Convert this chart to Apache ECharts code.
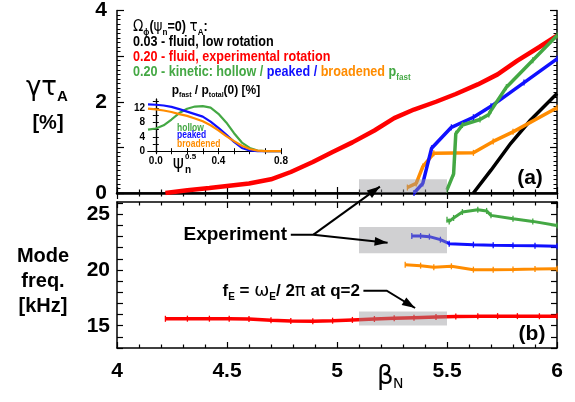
<!DOCTYPE html>
<html><head><meta charset="utf-8">
<script src="https://cdn.jsdelivr.net/npm/echarts@6/dist/echarts.min.js"></script>
<style>html,body{margin:0;padding:0;background:#fff}#c{width:575px;height:402px}</style>
</head><body><div id="c"></div>
<script>
// ---------- data ----------
const betaRed   = [4.22,4.32,4.42,4.51,4.60,4.70,4.79,4.89,4.98,5.07,5.17,5.26,5.35,5.45,5.54,5.64,5.73,5.82,5.92,6.00];
const growthRed = [0.00,0.06,0.11,0.16,0.21,0.30,0.46,0.68,0.90,1.11,1.37,1.64,1.83,2.00,2.17,2.38,2.60,2.90,3.20,3.45];
const freqRed   = [15.62,15.63,15.63,15.62,15.60,15.50,15.42,15.40,15.45,15.52,15.60,15.66,15.72,15.78,15.82,15.84,15.86,15.86,15.85,15.84];

const betaBlack   = [5.62,5.70,5.79,5.88,6.00];
const growthBlack = [0.00,0.50,1.09,1.60,2.18];

const betaBlueTop   = [5.35,5.39,5.43,5.52,5.62,5.70,5.85,6.00];
const growthBlue    = [0.00,0.21,0.98,1.44,1.66,1.90,2.42,2.94];
const betaOrangeTop = [5.32,5.36,5.39,5.44,5.62,5.71,5.80,6.00];
const growthOrange  = [0.12,0.21,0.58,0.87,0.88,1.13,1.34,1.87];
const betaGreenTop  = [5.50,5.53,5.54,5.57,5.65,5.69,5.70,5.77,5.89,6.00];
const growthGreen   = [0.07,0.42,1.30,1.49,1.61,1.72,1.81,2.32,2.91,3.45];

const betaBlueBot   = [5.34,5.38,5.42,5.47,5.51,5.62,5.71,5.80,5.90,6.00];
const freqBlue      = [23.05,23.05,22.99,22.72,22.36,22.27,22.22,22.20,22.18,22.12];
const betaOrangeBot = [5.31,5.38,5.44,5.52,5.62,5.71,5.80,5.90,6.00];
const freqOrange    = [20.48,20.39,20.24,20.33,20.03,20.03,20.05,20.08,20.12];
const betaGreenBot  = [5.50,5.51,5.53,5.57,5.64,5.68,5.70,5.80,5.89,6.00];
const freqGreen     = [24.50,24.36,24.67,25.20,25.40,25.30,24.90,24.60,24.36,24.00];

// inset: fast-ion pressure profiles
const psi        = [-0.05,0.00,0.05,0.10,0.15,0.20,0.25,0.30,0.35,0.40,0.45,0.50,0.55,0.60,0.65,0.70,0.75,0.80];
const pHollow    = [6.0,6.3,7.2,8.8,10.6,11.8,12.4,12.5,12.1,10.4,8.0,5.0,2.4,0.9,0.2,0.0,0.0,0.0];
const pPeaked    = [13.0,12.9,12.7,12.3,11.7,11.0,10.3,9.6,8.2,6.5,4.6,2.6,0.9,0.2,0.0,0.0,0.0,0.0];
const pBroadened = [11.8,11.6,11.3,10.9,10.3,9.8,9.1,8.3,7.2,5.8,4.2,2.8,1.5,0.6,0.15,0.02,0.0,0.0];

const topYLabels = [0,2,4];
const botYLabels = [15,20,25];
const insetXLabels = [0,0.4,0.8];
const insetYLabels = [0,4,8,12];

// ---------- style ----------
const RED='#ff0000', BLUE='#1010ff', GREEN='#44a844', ORANGE='#ff8c00', BLACK='#000000';
const FF='Liberation Sans';
const zip=(a,b)=>a.map((v,i)=>[v,b[i]]);
const tickMark={symbol:'rect'};

function ln(name,xs,ys,color,w,xi,yi,sym){
  return {name,type:'line',xAxisIndex:xi,yAxisIndex:yi,data:zip(xs,ys),
    lineStyle:{color,width:w},itemStyle:{color},
    symbol: sym?'rect':'none', symbolSize:[1.3,6], showSymbol:!!sym,
    animation:false, smooth:false, z:3};
}

const axLine={show:true,lineStyle:{color:'#000',width:1.5}};
const lab20={fontFamily:FF,fontWeight:'bold',fontSize:21,color:'#000'};

function mirrorX(gi,pos,extra){
  return Object.assign({type:'value',gridIndex:gi,position:pos,min:4,max:6,interval:0.5,
    axisLine:axLine,axisTick:{show:true,inside:true,length:6,lineStyle:{width:1.2}},
    minorTick:{show:true,splitNumber:5,length:3.5,lineStyle:{color:'#000',width:1.2}},
    axisLabel:{show:false},splitLine:{show:false},minorSplitLine:{show:false}},extra||{});
}

const chart=echarts.init(document.getElementById('c'),null,{renderer:'canvas'});
const option={
  animation:false,
  backgroundColor:'#fff',
  grid:[
    {left:117,top:10,width:440,height:183},
    {left:117,top:202,width:440,height:146},
    {left:148,top:99,width:133,height:54,show:true,backgroundColor:'#fff',borderWidth:0,z:5}
  ],
  xAxis:[
    mirrorX(0,'bottom',{axisLine:{show:true,lineStyle:{color:'#000',width:2.5}}}),
    mirrorX(0,'top'),
    mirrorX(1,'bottom',{axisLabel:Object.assign({show:true,margin:13},lab20)}),
    mirrorX(1,'top'),
    {type:'value',gridIndex:2,position:'bottom',min:-0.05,max:0.8,z:6,
      axisLine:{show:true,lineStyle:{color:'#000',width:1.2}},
      axisTick:{show:true,inside:true,length:3,customValues:[0,0.1,0.2,0.3,0.4,0.5,0.6,0.7,0.8]},
      axisLabel:{show:true,customValues:insetXLabels,formatter:v=>v.toFixed(1),margin:3,
        fontFamily:FF,fontWeight:'bold',fontSize:10,color:'#000'},
      splitLine:{show:false}},
    {type:'value',gridIndex:2,position:'top',min:-0.05,max:0.8,z:6,
      axisLine:{show:true,lineStyle:{color:'#000',width:1.2}},
      axisTick:{show:true,inside:true,length:3,customValues:[0,0.1,0.2,0.3,0.4,0.5,0.6,0.7,0.8]},
      axisLabel:{show:false},splitLine:{show:false}}
  ],
  yAxis:[
    {type:'value',gridIndex:0,position:'left',min:0,max:4,interval:1,
      axisLine:axLine,axisTick:{show:true,inside:true,length:7,lineStyle:{width:1.2}},
      minorTick:{show:true,splitNumber:10,length:3.5,lineStyle:{color:'#000',width:1}},
      axisLabel:Object.assign({show:true,margin:10,padding:[5,0,0,0],
        formatter:v=>topYLabels.indexOf(v)>=0?String(v):''},lab20),
      splitLine:{show:false},minorSplitLine:{show:false}},
    {type:'value',gridIndex:0,position:'right',min:0,max:4,interval:1,
      axisLine:axLine,axisTick:{show:true,inside:true,length:7,lineStyle:{width:1.2}},
      minorTick:{show:true,splitNumber:10,length:3.5,lineStyle:{color:'#000',width:1}},
      axisLabel:{show:false},splitLine:{show:false},minorSplitLine:{show:false}},
    {type:'value',gridIndex:1,position:'left',min:13,max:26.1,interval:1,
      axisLine:axLine,axisTick:{show:true,inside:true,length:6,lineStyle:{width:1.2}},
      axisLabel:Object.assign({show:true,margin:7,showMaxLabel:false,
        formatter:v=>botYLabels.indexOf(v)>=0?String(v):''},lab20),
      splitLine:{show:false}},
    {type:'value',gridIndex:1,position:'right',min:13,max:26.1,interval:1,
      axisLine:axLine,axisTick:{show:true,inside:true,length:6,lineStyle:{width:1.2}},
      axisLabel:{show:false},splitLine:{show:false}},
    {type:'value',gridIndex:2,position:'left',min:-0.5,max:14.5,z:6,
      axisLine:{show:true,lineStyle:{color:'#000',width:1.2}},
      axisTick:{show:true,inside:true,length:3,customValues:[0,2,4,6,8,10,12,14]},
      axisLabel:{show:true,customValues:insetYLabels,margin:3,
        fontFamily:FF,fontWeight:'bold',fontSize:10,color:'#000'},
      splitLine:{show:false}},
    {type:'value',gridIndex:2,position:'right',min:-0.5,max:14.5,z:6,
      axisLine:{show:true,lineStyle:{color:'#000',width:1.2}},
      axisTick:{show:true,inside:true,length:3,customValues:[0,2,4,6,8,10,12,14]},
      axisLabel:{show:false},splitLine:{show:false}}
  ],
  series:[
    ln('red-top',betaRed,growthRed,RED,4.5,0,0,false),
    ln('black-top',betaBlack,growthBlack,BLACK,3.5,0,0,false),
    ln('orange-top',betaOrangeTop,growthOrange,ORANGE,3.5,0,0,true),
    ln('blue-top',betaBlueTop,growthBlue,BLUE,3.5,0,0,true),
    ln('green-top',betaGreenTop,growthGreen,GREEN,3.5,0,0,true),
    ln('red-bot',betaRed,freqRed,RED,3.5,2,2,true),
    ln('orange-bot',betaOrangeBot,freqOrange,ORANGE,3,2,2,true),
    ln('blue-bot',betaBlueBot,freqBlue,BLUE,3,2,2,true),
    ln('green-bot',betaGreenBot,freqGreen,GREEN,3,2,2,true),
    Object.assign(ln('hollow',psi,pHollow,GREEN,2.2,4,4,false),{z:7}),
    Object.assign(ln('peaked',psi,pPeaked,BLUE,2.2,4,4,false),{z:7}),
    Object.assign(ln('broadened',psi,pBroadened,ORANGE,2.2,4,4,false),{z:7})
  ]
};
chart.setOption(option);

// ---------- annotations ----------
const px=(gi,p)=>chart.convertToPixel({gridIndex:gi},p);
const g=[];
function box(gi,x0,x1,y0,y1){
  const a=px(gi,[x0,y1]), b=px(gi,[x1,y0]);
  g.push({type:'rect',z:50,shape:{x:a[0],y:a[1],width:b[0]-a[0],height:b[1]-a[1]},
    style:{fill:'rgba(150,150,156,0.45)'}});
}
box(0,5.1,5.5,0,0.3);
box(1,5.1,5.5,21.5,23.85);
box(1,5.1,5.5,15.03,16.28);

function seg(pts){g.push({type:'polyline',z:60,shape:{points:pts},style:{stroke:'#000',lineWidth:2,fill:null}});}
function head(from,to){
  const dx=to[0]-from[0], dy=to[1]-from[1], L=Math.hypot(dx,dy), ux=dx/L, uy=dy/L;
  const bl=13, hw=4.5, bx=to[0]-ux*bl, by=to[1]-uy*bl;
  g.push({type:'polygon',z:61,shape:{points:[to,[bx-uy*hw,by+ux*hw],[bx+uy*hw,by-ux*hw]]},style:{fill:'#000'}});
}
const e0=px(1,[4.79,23.17]), e1=px(1,[4.893,23.17]), e2=px(1,[5.23,22.44]), e3=px(0,[5.195,0.14]);
seg([e0,e1,e2]); head(e1,e2);
seg([e1,e3]); head(e1,e3);
const f0=px(1,[5.12,18.14]), f1=px(1,[5.226,18.14]), f2=px(1,[5.355,16.59]);
seg([f0,f1,f2]); head(f1,f2);

function txt(x,y,text,o){
  o=o||{};
  g.push({type:'text',x,y,z:70,scaleX:o.sx||1,
    style:Object.assign({text,fontFamily:FF,fontWeight:'bold',fontSize:o.fs||20,fill:o.fill||'#000',
      align:o.align||'center',verticalAlign:'middle'},o.style||{})});
}
// axis titles
txt(57,88,'γτ',{align:'right',style:{fontFamily:'DejaVu Sans',fontWeight:'normal',fontSize:26}});
txt(57,97,'A',{align:'left',fs:15});
txt(48,123,'[%]',{fs:20});
txt(43,256,'Mode',{fs:20});
txt(43,281,'freq.',{fs:20});
txt(43,306,'[kHz]',{fs:20});
txt(377,377,'β',{align:'left',style:{fontFamily:'DejaVu Sans',fontWeight:'normal',fontSize:26}});
txt(393,384,'N',{align:'left',style:{fontFamily:'DejaVu Sans',fontWeight:'normal',fontSize:14}});
txt(530,178,'(a)',{fs:21});
txt(532,334,'(b)',{fs:21});

// legend block
const LS=0.9;
const rb={fontFamily:FF,fontWeight:'bold',fontSize:14,lineHeight:20,verticalAlign:'middle'};
const rg={fontFamily:'DejaVu Sans',fontWeight:'normal',fontSize:15,lineHeight:20,verticalAlign:'middle'};
const rs={fontFamily:FF,fontWeight:'bold',fontSize:9,lineHeight:8,verticalAlign:'bottom'};
g.push({type:'text',x:133,y:27,z:70,scaleX:LS,style:{text:'{g|Ω}{s|ϕ}{b|(}{g|ψ}{s|n}{b|=0) }{g|τ}{s|A}{b|:}',
  align:'left',verticalAlign:'middle',fill:'#000',rich:{b:rb,g:rg,s:rs}}});
txt(133,42,'0.03 - fluid, low rotation',{align:'left',fs:14,sx:LS});
txt(133,57,'0.20 - fluid, experimental rotation',{align:'left',fs:14,sx:LS,fill:RED});
g.push({type:'text',x:133,y:72,z:70,scaleX:LS,style:{text:'{gr|0.20 - kinetic: hollow / }{bl|peaked / }{or|broadened }{gr|p}{gs|fast}',
  align:'left',verticalAlign:'middle',rich:{
    gr:Object.assign({},rb,{fill:GREEN}),bl:Object.assign({},rb,{fill:BLUE}),or:Object.assign({},rb,{fill:ORANGE}),
    gs:Object.assign({},rs,{fill:GREEN})}}});

// inset texts
g.push({type:'text',x:216,y:91,z:70,scaleX:1,style:{text:'{b|p}{s|fast}{b| / p}{s|total}{b|(0) [%]}',
  align:'center',verticalAlign:'middle',fill:'#000',rich:{
    b:{fontFamily:FF,fontWeight:'bold',fontSize:12,lineHeight:16,verticalAlign:'middle'},
    s:{fontFamily:FF,fontWeight:'bold',fontSize:7,lineHeight:7,verticalAlign:'bottom'}}}});
txt(177,128,'hollow',{align:'left',fs:10,sx:0.85,fill:GREEN});
txt(177,135.5,'peaked',{align:'left',fs:10,sx:0.85,fill:BLUE});
txt(177,144,'broadened',{align:'left',fs:10,sx:0.85,fill:ORANGE});
txt(184,164,'ψ',{align:'right',style:{fontFamily:'DejaVu Sans',fontWeight:'normal',fontSize:17}});
txt(185,157,'0.5',{align:'left',fs:8});
txt(185,170,'n',{align:'left',fs:10});

// annotation texts
txt(287,235,'Experiment',{align:'right',fs:19});
g.push({type:'text',x:360,y:291,z:70,style:{text:'{b|f}{s|E}{b| = }{g|ω}{s|E}{b|/ 2}{g|π}{b| at q=2}',
  align:'right',verticalAlign:'middle',fill:'#000',rich:{
    b:{fontFamily:FF,fontWeight:'bold',fontSize:17,lineHeight:22,verticalAlign:'middle'},
    g:{fontFamily:'DejaVu Sans',fontWeight:'normal',fontSize:18,lineHeight:22,verticalAlign:'middle'},
    s:{fontFamily:FF,fontWeight:'bold',fontSize:10,lineHeight:9,verticalAlign:'bottom'}}}});

chart.setOption({graphic:g});
</script></body></html>
